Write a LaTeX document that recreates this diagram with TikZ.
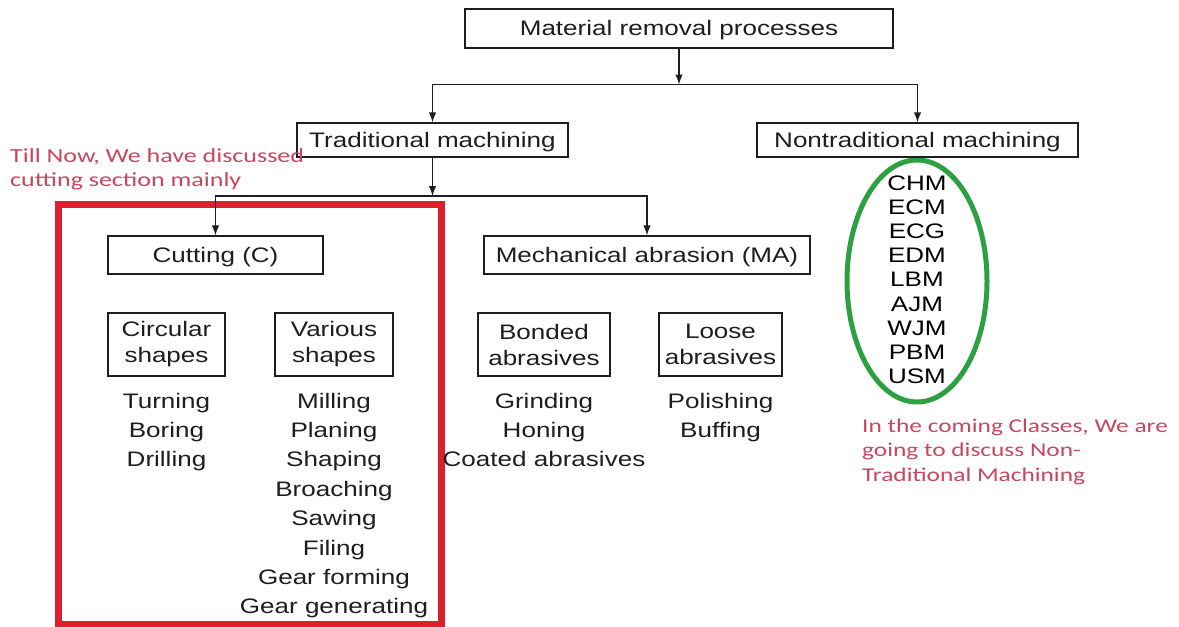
\documentclass[tikz,border=0pt]{standalone}
\usepackage{fontspec}
\setmainfont[FakeStretch=1.24]{Liberation Sans}
\newfontfamily\notefont[FakeStretch=1.3]{Carlito}
\usetikzlibrary{arrows.meta}
\definecolor{notered}{RGB}{200,70,95}
\definecolor{boxred}{RGB}{220,30,45}
\definecolor{ellgreen}{RGB}{45,160,65}
\definecolor{ink}{RGB}{30,30,30}
\tikzset{
  box/.style={draw=ink, line width=1.3pt, inner sep=0pt, align=center, text=ink,
    font=\fontsize{21}{26}\selectfont},
  oneline/.style={text height=15pt, text depth=1pt},
  item/.style={inner sep=0pt, anchor=base, text=ink, font=\fontsize{21}{26}\selectfont},
  abbr/.style={inner sep=0pt, anchor=base, text=black, font=\fontsize{21}{24}\selectfont},
  note/.style={inner sep=0pt, anchor=base west, text=notered, font=\notefont\fontsize{20}{24}\selectfont},
  rnote/.style={note, font=\notefont\fontsize{19.5}{24}\selectfont},
  arr/.style={draw=ink, line width=1.3pt, -{Latex[length=10pt,width=7.5pt]}},
}
\begin{document}
\begin{tikzpicture}[x=1pt,y=-1pt]
\useasboundingbox[fill=white] (0,0) rectangle (1179,627);

% highlight frames
\draw[boxred, line width=7pt] (58,204) rectangle (441,624);
\draw[ellgreen, line width=5pt] (917,281) ellipse [x radius=70pt, y radius=121pt];

% boxes
\node[box, oneline, minimum width=428pt, minimum height=39pt] (mrp) at (679,28.5) {Material removal processes};
\node[box, oneline, minimum width=271pt, minimum height=34pt] (trad) at (432.5,140) {Traditional machining};
\node[box, oneline, minimum width=321pt, minimum height=34pt] (nontrad) at (917.5,140) {Nontraditional machining};
\node[box, oneline, minimum width=215pt, minimum height=38pt] (cut) at (215.5,255) {Cutting (C)};
\node[box, oneline, minimum width=326pt, minimum height=38pt] (ma) at (647,255) {Mechanical abrasion (MA)};
\node[box, minimum width=117pt, minimum height=63pt] (circ) at (166.5,344.5) {Circular\\shapes};
\node[box, minimum width=118pt, minimum height=63pt] (var) at (334,344.5) {Various\\shapes};
\node[box, minimum width=132pt, minimum height=63pt] (bond) at (544,344.5) {Bonded\\abrasives};
\node[box, minimum width=123pt, minimum height=63pt] (loose) at (720.5,344.5) {Loose\\abrasives};

% connectors
\coordinate (j1) at (679,84.5);
\coordinate (j2) at (432.5,196);
\draw[arr] (mrp.south) -- (j1);
\draw[arr] (j1) -| (trad.north);
\draw[arr] (j1) -| (nontrad.north);
\draw[arr] (trad.south) -- (j2);
\draw[arr] (j2) -| (cut.north);
\draw[arr] (j2) -| (ma.north);

% process lists
\node[item] (turning) at (166.5,408) {Turning};
\node[item] (boring) at (166.5,437.4) {Boring};
\node[item] (drilling) at (166.5,466.8) {Drilling};

\node[item] (milling) at (334,408) {Milling};
\node[item] (planing) at (334,437.4) {Planing};
\node[item] (shaping) at (334,466.8) {Shaping};
\node[item] (broaching) at (334,496.2) {Broaching};
\node[item] (sawing) at (334,525.6) {Sawing};
\node[item] (filing) at (334,555) {Filing};
\node[item] (gearf) at (334,584.4) {Gear forming};
\node[item] (gearg) at (334,613.8) {Gear generating};

\node[item] (grinding) at (544,408) {Grinding};
\node[item] (honing) at (544,437.4) {Honing};
\node[item] (coated) at (544,466.8) {Coated abrasives};

\node[item] (polishing) at (720.5,408) {Polishing};
\node[item] (buffing) at (720.5,437.4) {Buffing};

\node[abbr] (chm) at (917,190) {CHM};
\node[abbr] (ecm) at (917,214.2) {ECM};
\node[abbr] (ecg) at (917,238.4) {ECG};
\node[abbr] (edm) at (917,262.6) {EDM};
\node[abbr] (lbm) at (917,286.8) {LBM};
\node[abbr] (ajm) at (917,311) {AJM};
\node[abbr] (wjm) at (917,335.2) {WJM};
\node[abbr] (pbm) at (917,359.4) {PBM};
\node[abbr] (usm) at (917,383.6) {USM};

% annotations
\node[note] (n1) at (10,162) {Till Now, We have discussed};
\node[note] (n2) at (10,186) {cutting section mainly};
\node[rnote] (n3) at (862,432) {In the coming Classes, We are};
\node[rnote] (n4) at (862,456) {going to discuss Non-};
\node[rnote] (n5) at (862,481) {Traditional Machining};
\end{tikzpicture}
\end{document}
